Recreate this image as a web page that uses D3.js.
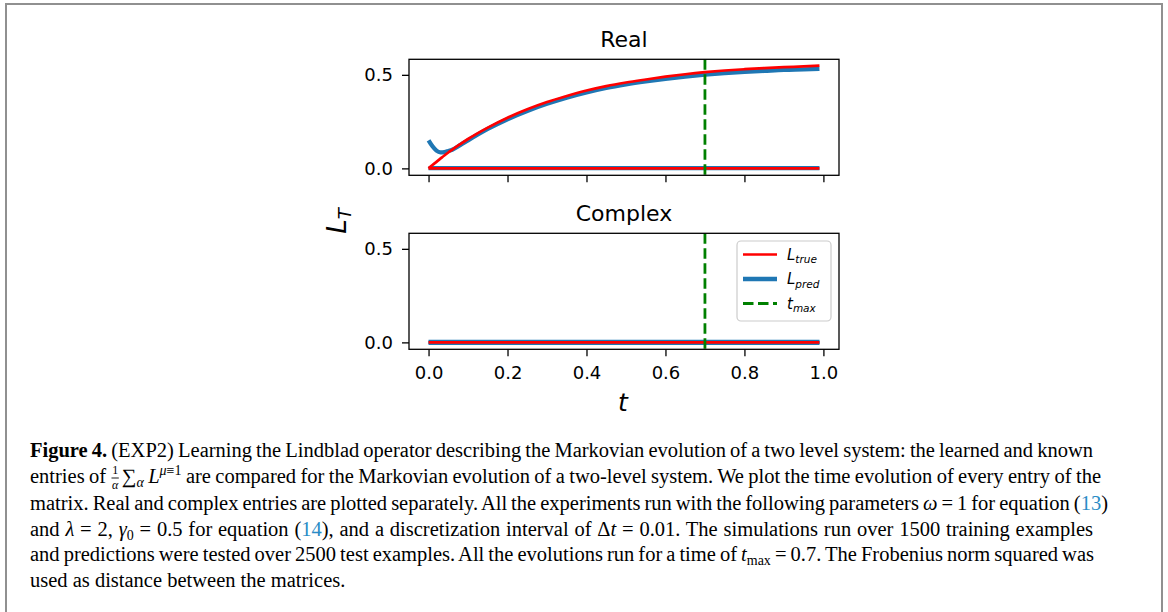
<!DOCTYPE html>
<html>
<head>
<meta charset="utf-8">
<script src="https://cdn.jsdelivr.net/npm/d3@7"></script>
<style>
  html, body { margin: 0; padding: 0; background: #ffffff; }
  svg { display: block; }
  text { white-space: pre; }
</style>
</head>
<body>
<script>
// ---------------- DATA ----------------
// time grid (t runs from 0 to 0.99)
const tGrid = [0, 0.01, 0.02, 0.03, 0.04, 0.05, 0.06, 0.08, 0.10, 0.15, 0.20, 0.25, 0.30,
               0.35, 0.40, 0.45, 0.50, 0.55, 0.60, 0.65, 0.70, 0.75, 0.80, 0.85, 0.90, 0.95, 0.99];
// Real part: the growing entry (true vs predicted)
const realTrueMain = [0, 0.018, 0.035, 0.052, 0.069, 0.085, 0.100, 0.129, 0.157, 0.218, 0.271, 0.316,
                      0.355, 0.387, 0.416, 0.440, 0.459, 0.475, 0.490, 0.503, 0.514, 0.523, 0.530,
                      0.536, 0.541, 0.545, 0.549];
const realPredMain = [0.150, 0.118, 0.095, 0.086, 0.087, 0.093, 0.100, 0.124, 0.150, 0.211, 0.263, 0.307,
                      0.345, 0.378, 0.406, 0.430, 0.449, 0.465, 0.479, 0.491, 0.501, 0.509, 0.516,
                      0.521, 0.526, 0.529, 0.532];
// Flat entries (all other entries sit at zero)
const tFlat = [0, 0.99];
const realTrueFlat = [0, 0];
const realPredFlat = [0.001, 0.001];
const complexTrue = [0, 0];
const complexPredA = [0.003, 0.003];
const complexPredB = [-0.003, -0.003];
const tMax = 0.7;
// axis ticks
const xTicks = [0, 0.2, 0.4, 0.6, 0.8, 1.0];
const xTickLabels = ["0.0", "0.2", "0.4", "0.6", "0.8", "1.0"];
const yTicks = [0, 0.5];
const yTickLabels = ["0.0", "0.5"];
const xLim = [-0.0495, 1.0395];
const yLim = [-0.037, 0.583];
const legendLabels = [["L", "true"], ["L", "pred"], ["t", "max"]];

// ---------------- STYLE ----------------
const RED = "#ff0000", BLUE = "#1f77b4", GREEN = "#008000";
const FONT = "DejaVu Sans";

const W = 1168, H = 612;
const svg = d3.select("body").append("svg").attr("width", W).attr("height", H);

// outer frame
svg.append("rect").attr("x", 6).attr("y", 4).attr("width", 1156).attr("height", 640)
  .attr("fill", "none").attr("stroke", "#909090").attr("stroke-width", 2);

const axL = 409, axR = 839;
const x = d3.scaleLinear().domain(xLim).range([axL, axR]);

function drawPanel(id, top, bottom, title, series, showXLabels, withLegend) {
  const y = d3.scaleLinear().domain(yLim).range([bottom, top]);
  const g = svg.append("g");
  svg.append("clipPath").attr("id", id).append("rect")
    .attr("x", axL).attr("y", top).attr("width", axR - axL).attr("height", bottom - top);
  const plot = g.append("g").attr("clip-path", `url(#${id})`);
  const line = d3.line().x(d => x(d[0])).y(d => y(d[1])).curve(d3.curveMonotoneX);
  series.forEach(s => {
    plot.append("path").datum(d3.zip(s.t, s.v)).attr("d", line)
      .attr("fill", "none").attr("stroke", s.color).attr("stroke-width", s.w)
      .attr("stroke-linejoin", "round").attr("stroke-linecap", "butt");
  });
  // t_max vertical line
  plot.append("line").attr("x1", x(tMax)).attr("x2", x(tMax)).attr("y1", top).attr("y2", bottom)
    .attr("stroke", GREEN).attr("stroke-width", 2.8).attr("stroke-dasharray", "10.5,4.5");

  // axes
  const xa = d3.axisBottom(x).tickValues(xTicks).tickSize(7).tickSizeOuter(0).tickPadding(10)
    .tickFormat((d, i) => showXLabels ? xTickLabels[i] : "");
  const ya = d3.axisLeft(y).tickValues(yTicks).tickSize(7).tickSizeOuter(0).tickPadding(9)
    .tickFormat((d, i) => yTickLabels[i]);
  const gx = g.append("g").attr("transform", `translate(0,${bottom})`).call(xa);
  const gy = g.append("g").attr("transform", `translate(${axL},0)`).call(ya);
  [gx, gy].forEach(a => {
    a.select(".domain").remove();
    a.selectAll("line").attr("stroke", "#000").attr("stroke-width", 1.3);
    a.selectAll("text").attr("fill", "#000").style("font-family", FONT).style("font-size", "18px");
  });
  // spines
  g.append("rect").attr("x", axL).attr("y", top).attr("width", axR - axL).attr("height", bottom - top)
    .attr("fill", "none").attr("stroke", "#000").attr("stroke-width", 1.3);
  // title
  g.append("text").attr("x", (axL + axR) / 2).attr("y", top - 12).attr("text-anchor", "middle")
    .style("font-family", FONT).style("font-size", "22px").attr("fill", "#000").text(title);

  if (withLegend) {
    const lg = g.append("g");
    lg.append("rect").attr("x", 737).attr("y", 241).attr("width", 94).attr("height", 80).attr("rx", 4)
      .attr("fill", "#fff").attr("fill-opacity", 0.8).attr("stroke", "#cccccc").attr("stroke-width", 1.2);
    const rows = [{c: RED, w: 2.7, dash: null}, {c: BLUE, w: 4.3, dash: null}, {c: GREEN, w: 2.8, dash: "10.5,4.5"}];
    const rowY = [254.5, 279, 303.5];
    rows.forEach((r, i) => {
      lg.append("line").attr("x1", 743).attr("x2", 777).attr("y1", rowY[i]).attr("y2", rowY[i])
        .attr("stroke", r.c).attr("stroke-width", r.w).attr("stroke-dasharray", r.dash);
      const t = lg.append("text").attr("x", 787).attr("y", rowY[i] + 5)
        .style("font-family", FONT).style("font-style", "italic").attr("fill", "#000");
      t.append("tspan").style("font-size", "15px").text(legendLabels[i][0]);
      t.append("tspan").style("font-size", "10.5px").attr("dy", 3.5).text(legendLabels[i][1]);
    });
  }
}

drawPanel("clipTop", 59.3, 175.3, "Real", [
  {t: tFlat, v: realPredFlat, color: BLUE, w: 4.3},
  {t: tGrid, v: realPredMain, color: BLUE, w: 4.3},
  {t: tFlat, v: realTrueFlat, color: RED, w: 2.7},
  {t: tGrid, v: realTrueMain, color: RED, w: 2.7}
], false, false);

drawPanel("clipBot", 233.3, 349.3, "Complex", [
  {t: tFlat, v: complexPredA, color: BLUE, w: 4.3},
  {t: tFlat, v: complexPredB, color: BLUE, w: 4.3},
  {t: tFlat, v: complexTrue, color: RED, w: 2.7}
], true, true);

// axis labels
svg.append("text").attr("x", 623).attr("y", 411).attr("text-anchor", "middle")
  .style("font-family", FONT).style("font-style", "italic").style("font-size", "25px").text("t");
const yl = svg.append("text").attr("transform", "translate(346,221) rotate(-90)").attr("text-anchor", "middle")
  .style("font-family", FONT).style("font-style", "italic");
yl.append("tspan").style("font-size", "26px").text("L");
yl.append("tspan").style("font-size", "18px").attr("dy", 5).text("T");

// ---------------- CAPTION ----------------
const CAP_FONT = "Liberation Serif";
const CAP_SIZE = 20.5;
const SUB = 14;
const LINK = "#2a8cc6";
const cap = svg.append("g");

const captionLines = [
  {y: 457, right: 1093, segs: [
    {t: "Figure 4.", bold: true},
    {t: " (EXP2) Learning the Lindblad operator describing the Markovian evolution of a two level system: the learned and known"}]},
  {y: 483, right: 1101, segs: [
    {t: "entries of "}, {frac: true, num: "1", den: "α"}, {t: "∑"}, {t: "α", it: true, size: SUB, dy: 4},
    {t: " "}, {t: "L", it: true}, {t: "μ", it: true, size: SUB, dy: -8}, {t: "≡1", size: SUB, dy: -8},
    {t: " are compared for the Markovian evolution of a two-level system. We plot the time evolution of every entry of the"}]},
  {y: 510, right: 1108, segs: [
    {t: "matrix. Real and complex entries are plotted separately. All the experiments run with the following parameters "},
    {t: "ω", it: true}, {t: " = 1 for equation ("}, {t: "13", link: true}, {t: ")"}]},
  {y: 535.5, right: 1093, segs: [
    {t: "and "}, {t: "λ", it: true}, {t: " = 2, "}, {t: "γ", it: true}, {t: "0", size: SUB, dy: 4},
    {t: " = 0.5 for equation ("}, {t: "14", link: true}, {t: "), and a discretization interval of Δ"},
    {t: "t", it: true}, {t: " = 0.01. The simulations run over 1500 training examples"}]},
  {y: 561, right: 1094, segs: [
    {t: "and predictions were tested over 2500 test examples. All the evolutions run for a time of "},
    {t: "t", it: true}, {t: "max", size: SUB, dy: 4}, {t: " = 0.7. The Frobenius norm squared was"}]},
  {y: 587, right: null, segs: [
    {t: "used as distance between the matrices."}]}
];

const capX = 30;
captionLines.forEach(L => {
  const items = [];
  L.segs.forEach(s => {
    if (s.frac) {
      const fg = cap.append("g");
      const n = fg.append("text").style("font-family", CAP_FONT).style("font-size", "12px").attr("fill", "#000").text(s.num);
      const d = fg.append("text").style("font-family", CAP_FONT).style("font-size", "12px").style("font-style", "italic").attr("fill", "#000").text(s.den);
      const wn = n.node().getComputedTextLength(), wd = d.node().getComputedTextLength();
      const inner = Math.max(wn, wd);
      const w = inner + 5;
      const bar = fg.append("line").attr("stroke", "#000").attr("stroke-width", 0.9);
      items.push({w, sp: 0, place: (xx) => {
        n.attr("x", xx + 1.5 + (inner - wn) / 2).attr("y", L.y - 9);
        d.attr("x", xx + 1.5 + (inner - wd) / 2).attr("y", L.y + 6);
        bar.attr("x1", xx + 1).attr("x2", xx + inner + 2).attr("y1", L.y - 5).attr("y2", L.y - 5);
      }});
    } else {
      const t = cap.append("text").attr("y", L.y + (s.dy || 0))
        .attr("xml:space", "preserve")
        .style("font-family", CAP_FONT).style("font-size", (s.size || CAP_SIZE) + "px")
        .style("font-weight", s.bold ? "bold" : "normal")
        .style("font-style", s.it ? "italic" : "normal")
        .attr("fill", s.link ? LINK : "#000").text(s.t);
      const w = t.node().getComputedTextLength();
      const sp = (s.t.match(/ /g) || []).length;
      items.push({w, sp, place: (xx, extra) => { t.attr("x", xx).attr("word-spacing", extra); }});
    }
  });
  const natural = d3.sum(items, d => d.w);
  const nsp = d3.sum(items, d => d.sp);
  const extra = (L.right && nsp) ? (L.right - capX - natural) / nsp : 0;
  let xx = capX;
  items.forEach(it => { it.place(xx, extra); xx += it.w + it.sp * extra; });
});
</script>
</body>
</html>
